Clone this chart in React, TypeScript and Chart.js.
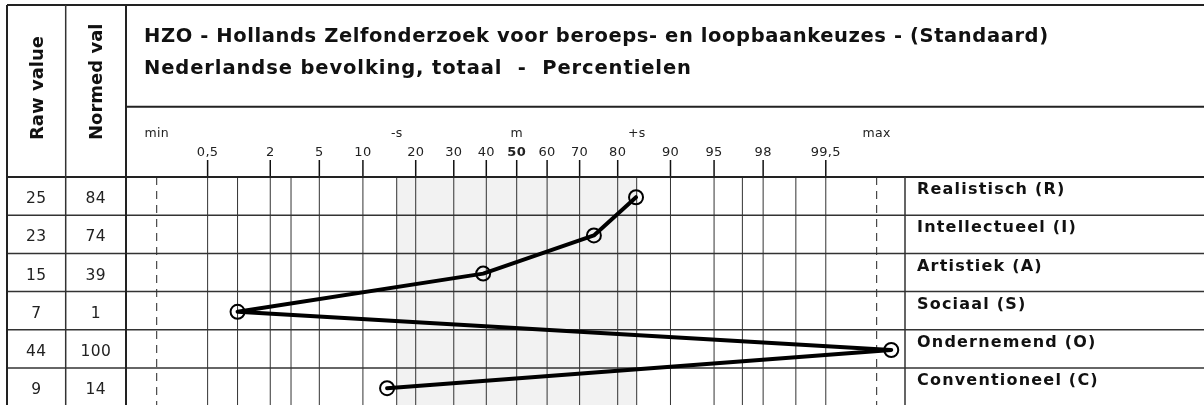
import { useEffect, useRef } from "react";
import { Chart, registerables } from "chart.js";

Chart.register(...registerables);

// ---------- data ----------
const titleLine1 = "HZO - Hollands Zelfonderzoek voor beroeps- en loopbaankeuzes - (Standaard)";
const titleLine2 = "Nederlandse bevolking, totaal  -  Percentielen";
const columnHeaders = ["Raw value", "Normed val"];
const categories = [
  "Realistisch (R)",
  "Intellectueel (I)",
  "Artistiek (A)",
  "Sociaal (S)",
  "Ondernemend (O)",
  "Conventioneel (C)",
];
const rawValues = [25, 23, 15, 7, 44, 9];
const normedValues = [84, 74, 39, 1, 100, 14];

const tickPercentiles = [0.5, 2, 5, 10, 20, 30, 40, 50, 60, 70, 80, 90, 95, 98, 99.5];
const tickLabels = ["0,5", "2", "5", "10", "20", "30", "40", "50", "60", "70", "80", "90", "95", "98", "99,5"];
const minorPercentiles = [1, 3, 97, 99];
const sdMarks = [-3, -1, 0, 1, 3];
const sdLabels = ["min", "-s", "m", "+s", "max"];

// ---------- helpers ----------
function invNorm(p: number): number {
  const a = [-3.969683028665376e1, 2.209460984245205e2, -2.759285104469687e2, 1.38357751867269e2, -3.066479806614716e1, 2.506628277459239];
  const b = [-5.447609879822406e1, 1.615858368580409e2, -1.556989798598866e2, 6.680131188771972e1, -1.328068155288572e1];
  const c = [-7.784894002430293e-3, -3.223964580411365e-1, -2.400758277161838, -2.549732539343734, 4.374664141464968, 2.938163982698783];
  const d = [7.784695709041462e-3, 3.224671290700398e-1, 2.445134137142996, 3.754408661907416];
  const pl = 0.02425;
  const ph = 1 - pl;
  let q: number, r: number;
  if (p < pl) {
    q = Math.sqrt(-2 * Math.log(p));
    return (((((c[0] * q + c[1]) * q + c[2]) * q + c[3]) * q + c[4]) * q + c[5]) / ((((d[0] * q + d[1]) * q + d[2]) * q + d[3]) * q + 1);
  }
  if (p <= ph) {
    q = p - 0.5;
    r = q * q;
    return ((((((a[0] * r + a[1]) * r + a[2]) * r + a[3]) * r + a[4]) * r + a[5]) * q) / (((((b[0] * r + b[1]) * r + b[2]) * r + b[3]) * r + b[4]) * r + 1);
  }
  q = Math.sqrt(-2 * Math.log(1 - p));
  return -(((((c[0] * q + c[1]) * q + c[2]) * q + c[3]) * q + c[4]) * q + c[5]) / ((((d[0] * q + d[1]) * q + d[2]) * q + d[3]) * q + 1);
}

function pctToZ(pct: number): number {
  const p = Math.min(Math.max(pct, 0.09), 99.91) / 100;
  return invNorm(p);
}

const FONT = "'DejaVu Sans', Verdana, sans-serif";
const LINE = "#333";

function setSpacing(ctx: any, px: number) {
  if ("letterSpacing" in ctx) ctx.letterSpacing = `${px}px`;
}

const tablePlugin = {
  id: "hzoTable",
  beforeDatasetsDraw(chart: any) {
    const { ctx, chartArea, scales } = chart;
    const xs = scales.x;
    const ys = scales.y;
    const W = chart.width;
    const H = chart.height;
    const left = 7;
    const top = 5;
    const col1 = 65.7;
    const col2 = chartArea.left;
    const headerSplit = 106.7;
    const rowTop = ys.getPixelForValue(0);

    ctx.save();
    // shaded band between -s and +s
    ctx.fillStyle = "#f2f2f2";
    const sx0 = xs.getPixelForValue(-1);
    const sx1 = xs.getPixelForValue(1);
    ctx.fillRect(sx0, rowTop, sx1 - sx0, chartArea.bottom - rowTop);

    // vertical grid lines
    ctx.strokeStyle = LINE;
    ctx.lineWidth = 1;
    const gridZ = [...tickPercentiles, ...minorPercentiles].map(pctToZ).concat([-1, 1]);
    gridZ.forEach((z) => {
      const x = xs.getPixelForValue(z);
      ctx.beginPath();
      ctx.moveTo(x, rowTop);
      ctx.lineTo(x, chartArea.bottom);
      ctx.stroke();
    });

    // dashed min / max lines
    ctx.setLineDash([8, 6]);
    ctx.strokeStyle = "#222";
    [-3, 3].forEach((z) => {
      const x = xs.getPixelForValue(z);
      ctx.beginPath();
      ctx.moveTo(x, rowTop);
      ctx.lineTo(x, chartArea.bottom);
      ctx.stroke();
    });
    ctx.setLineDash([]);

    // tick marks in header
    ctx.strokeStyle = "#111";
    ctx.lineWidth = 1.5;
    tickPercentiles.forEach((p) => {
      const x = xs.getPixelForValue(pctToZ(p));
      ctx.beginPath();
      ctx.moveTo(x, 160);
      ctx.lineTo(x, rowTop);
      ctx.stroke();
    });

    // row lines
    ctx.strokeStyle = LINE;
    ctx.lineWidth = 1.5;
    for (let i = 1; i <= categories.length; i++) {
      const y = ys.getPixelForValue(i);
      ctx.beginPath();
      ctx.moveTo(left, y);
      ctx.lineTo(W, y);
      ctx.stroke();
    }
    // header frame
    ctx.lineWidth = 2;
    ctx.strokeStyle = "#222";
    ctx.beginPath();
    ctx.moveTo(left, top);
    ctx.lineTo(W, top);
    ctx.moveTo(left, rowTop);
    ctx.lineTo(W, rowTop);
    ctx.moveTo(col2, headerSplit);
    ctx.lineTo(W, headerSplit);
    ctx.moveTo(left, top);
    ctx.lineTo(left, H);
    ctx.moveTo(col2, top);
    ctx.lineTo(col2, H);
    ctx.stroke();
    ctx.lineWidth = 1.5;
    ctx.strokeStyle = LINE;
    ctx.beginPath();
    ctx.moveTo(col1, top);
    ctx.lineTo(col1, H);
    ctx.moveTo(chartArea.right, rowTop);
    ctx.lineTo(chartArea.right, H);
    ctx.stroke();

    // titles
    ctx.fillStyle = "#111";
    ctx.textAlign = "left";
    ctx.textBaseline = "alphabetic";
    ctx.font = `bold 19.5px ${FONT}`;
    setSpacing(ctx, 0.6);
    ctx.fillText(titleLine1, 144, 41.5);
    setSpacing(ctx, 0.9);
    ctx.fillText(titleLine2, 144, 73.5);

    // sd labels
    ctx.fillStyle = "#222";
    ctx.textAlign = "center";
    ctx.font = `12.5px ${FONT}`;
    setSpacing(ctx, 0.3);
    sdMarks.forEach((z, i) => {
      ctx.fillText(sdLabels[i], xs.getPixelForValue(z), 137);
    });
    // percentile labels
    tickPercentiles.forEach((p, i) => {
      ctx.font = p === 50 ? `bold 13px ${FONT}` : `13px ${FONT}`;
      ctx.fillText(tickLabels[i], xs.getPixelForValue(pctToZ(p)), 156);
    });

    // rotated column headers
    ctx.font = `bold 18px ${FONT}`;
    setSpacing(ctx, 0);
    ctx.fillStyle = "#111";
    ctx.textAlign = "left";
    const hx = [43.3, 101.7];
    columnHeaders.forEach((h, i) => {
      ctx.save();
      ctx.translate(hx[i], 140);
      ctx.rotate(-Math.PI / 2);
      ctx.fillText(h, 0, 0);
      ctx.restore();
    });

    // values and category labels
    ctx.textBaseline = "middle";
    categories.forEach((cat, i) => {
      const yc = ys.getPixelForValue(i + 0.5) + 3;
      ctx.font = `15.5px ${FONT}`;
      setSpacing(ctx, 0.4);
      ctx.fillStyle = "#222";
      ctx.textAlign = "center";
      ctx.fillText(String(rawValues[i]), (left + col1) / 2, yc);
      ctx.fillText(String(normedValues[i]), (col1 + col2) / 2, yc);
      ctx.font = `bold 16px ${FONT}`;
      setSpacing(ctx, 1.2);
      ctx.fillStyle = "#111";
      ctx.textAlign = "left";
      ctx.fillText(cat, 917, ys.getPixelForValue(i + 0.34));
    });
    setSpacing(ctx, 0);
    ctx.restore();
  },
};

const bgPlugin = {
  id: "whiteBg",
  beforeDraw(chart: any) {
    const { ctx } = chart;
    ctx.save();
    ctx.fillStyle = "#fff";
    ctx.fillRect(0, 0, chart.width, chart.height);
    ctx.restore();
  },
};

export default function App() {
  const ref = useRef<HTMLCanvasElement | null>(null);
  useEffect(() => {
    if (!ref.current) return;
    const chart = new Chart(ref.current, {
      type: "line",
      data: {
        datasets: [
          {
            data: normedValues.map((p, i) => ({ x: pctToZ(p), y: i + 0.53 })),
            borderColor: "#000",
            borderWidth: 4,
            borderJoinStyle: "round",
            borderCapStyle: "round",
            pointRadius: 7,
            pointBorderWidth: 2,
            pointBackgroundColor: "rgba(0,0,0,0)",
            pointBorderColor: "#000",
            tension: 0,
            clip: false,
          } as any,
        ],
      },
      options: {
        animation: false,
        responsive: false,
        maintainAspectRatio: false,
        layout: { autoPadding: false, padding: { left: 126, right: 299, top: 177, bottom: 0 } } as any,
        scales: {
          x: { type: "linear", min: -3.256, max: 3.236, display: false },
          y: { type: "linear", min: 0, max: 5.97, reverse: true, display: false },
        },
        plugins: { legend: { display: false }, tooltip: { enabled: false } },
      },
      plugins: [bgPlugin, tablePlugin],
    });
    return () => chart.destroy();
  }, []);
  return (
    <div style={{ position: "absolute", left: 0, top: 0, width: 1204, height: 405 }}>
      <canvas ref={ref} width={1204} height={405} style={{ display: "block", width: 1204, height: 405 }} />
    </div>
  );
}
